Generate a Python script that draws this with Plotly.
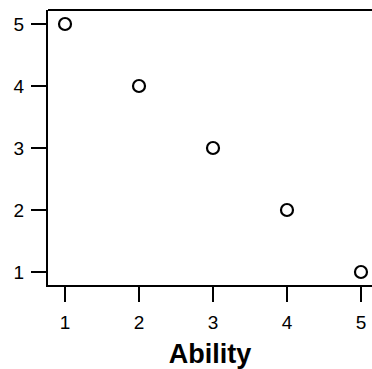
import plotly.graph_objects as go

ability = [1, 2, 3, 4, 5]
score = [5, 4, 3, 2, 1]
x_ticks = [1, 2, 3, 4, 5]
y_ticks = [1, 2, 3, 4, 5]

fig = go.Figure(
    go.Scatter(
        x=ability,
        y=score,
        mode="markers",
        marker=dict(symbol="circle-open", size=12, color="black",
                    line=dict(width=2.2, color="black")),
        showlegend=False,
    )
)

axis_common = dict(
    showline=True,
    linecolor="black",
    linewidth=2,
    ticks="outside",
    ticklen=15,
    tickwidth=2,
    tickcolor="black",
    showgrid=False,
    zeroline=False,
    tickfont=dict(family="Liberation Sans, Arial", size=19, color="black"),
)

fig.update_xaxes(
    range=[0.770, 5.149],
    tickvals=x_ticks,
    ticklabelstandoff=4,
    title=dict(text="<b>Ability</b>", standoff=14,
               font=dict(family="Liberation Sans, Arial", size=27, color="black")),
    **axis_common,
)
fig.update_yaxes(
    range=[0.790, 5.226],
    tickvals=y_ticks,
    ticklabelstandoff=3,
    **axis_common,
)

# top border of the frame
fig.add_shape(type="line", xref="paper", yref="paper", x0=0, x1=1, y0=1, y1=1,
              line=dict(color="black", width=2))

fig.update_layout(
    width=372,
    height=369,
    margin=dict(l=48, r=0, t=10, b=84),
    plot_bgcolor="white",
    paper_bgcolor="white",
)

fig.write_html("out.html")
